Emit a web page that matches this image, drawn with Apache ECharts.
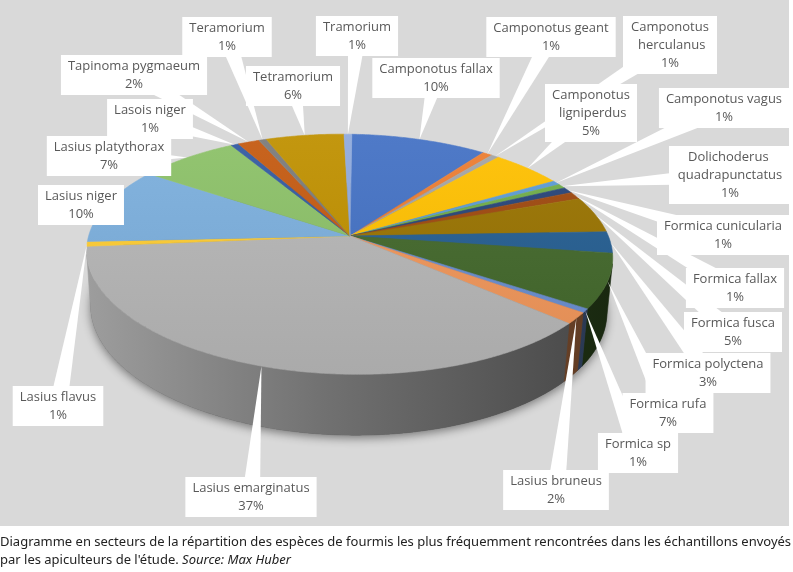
<!DOCTYPE html>
<html lang="fr">
<head>
<meta charset="UTF-8">
<title>Répartition des espèces de fourmis</title>
<script src="https://cdn.jsdelivr.net/npm/echarts@6/dist/echarts.min.js"></script>
<style>
    html, body { margin: 0; padding: 0; background: #fff; }
    #chart { width: 793px; height: 572px; }
</style>
</head>
<body>
<div id="chart"></div>
<script>
    // espèces, dans l'ordre des secteurs (sens horaire depuis midi)
    const especes = ['Camponotus fallax', 'Camponotus geant', 'Camponotus herculanus', 'Camponotus ligniperdus',
        'Camponotus vagus', 'Dolichoderus quadrapunctatus', 'Formica cunicularia', 'Formica fallax',
        'Formica fusca', 'Formica polyctena', 'Formica rufa', 'Formica sp', 'Lasius bruneus',
        'Lasius emarginatus', 'Lasius flavus', 'Lasius niger', 'Lasius platythorax', 'Lasois niger',
        'Tapinoma pygmaeum', 'Teramorium', 'Tetramorium', 'Tramorium'];
    // part estimée de chaque espèce (%)
    const parts = [9.7, 0.7, 0.55, 5.1, 0.6, 0.6, 0.8, 1.0, 4.9, 2.9, 7.4, 0.55, 1.55,
        37.1, 0.65, 10.5, 7.2, 0.55, 1.55, 0.55, 5.6, 0.55];
    // couleurs des secteurs (palette Office)
    const couleurs = ['#4472C4', '#ED7D31', '#A5A5A5', '#FFC000', '#5B9BD5', '#70AD47', '#264478', '#9E480E',
        '#997300', '#255E91', '#43682B', '#698ED0', '#F1975A', '#B7B7B7', '#FFCD33', '#7CAFDD',
        '#8CC168', '#335AA1', '#C55A11', '#7B7B7B', '#BF9000', '#8FAADC'];
    // étiquettes : centre x, centre y, largeur de retour à la ligne (0 = une ligne)
    const etiquettes = [[436, 78, 0], [551, 37, 0], [670, 45, 80], [591, 113, 78], [724, 108, 0],
        [730, 175, 108], [723, 235, 0], [735, 288, 0], [733, 332, 0], [708, 373, 0], [668, 413, 0],
        [638, 453, 0], [556, 490, 0], [251, 497, 0], [58, 406, 0], [81, 205, 0], [109, 156, 0],
        [150, 119, 0], [134, 75, 0], [227, 37, 0], [293, 86, 0], [357, 36, 0]];

    const total = parts.reduce((a, b) => a + b, 0);
    const debut = [];
    let cumul = 0;
    parts.forEach(v => { debut.push(cumul / total * 2 * Math.PI); cumul += v; });

    // vue 3D façon Excel : inclinaison + perspective
    const vue = {cx: 350, cy: 236, r: 260, d: 5.87, tilt: 26.8 * Math.PI / 180, h: 0.238, roll: 1 * Math.PI / 180};

    function proj(x, z, y) {
        const s = Math.sin(vue.tilt), c = Math.cos(vue.tilt);
        const up = z * s + y * c;
        const k = vue.d / (vue.d + z * c - y * s);
        const dx = vue.r * x * k, dy = -vue.r * up * k;
        return [vue.cx + dx * Math.cos(vue.roll) - dy * Math.sin(vue.roll),
            vue.cy + dx * Math.sin(vue.roll) + dy * Math.cos(vue.roll)];
    }

    function arc(a0, a1, y) {
        const pts = [];
        const n = Math.max(2, Math.ceil((a1 - a0) / (Math.PI / 360)));
        for (let j = 0; j <= n; j++) {
            const t = a0 + (a1 - a0) * j / n;
            pts.push(proj(Math.sin(t), Math.cos(t), y));
        }
        return pts;
    }

    // partie de la paroi tournée vers l'observateur
    function faceVisible(t) {
        const e = 0.001;
        const a = proj(Math.sin(t), Math.cos(t), 0);
        const b = proj(Math.sin(t + e), Math.cos(t + e), 0);
        const c = proj(Math.sin(t), Math.cos(t), -vue.h);
        return (b[0] - a[0]) * (c[1] - a[1]) - (b[1] - a[1]) * (c[0] - a[0]) < 0;
    }
    let paroiMin = Math.PI, paroiMax = Math.PI;
    while (faceVisible(paroiMin - 0.002)) paroiMin -= 0.002;
    while (faceVisible(paroiMax + 0.002)) paroiMax += 0.002;

    function teinte(hex, f) {
        const n = parseInt(hex.slice(1), 16);
        let r = n >> 16, g = (n >> 8) & 255, b = n & 255;
        if (f <= 1) {
            r *= f; g *= f; b *= f;
        } else {
            const t = f - 1;
            r += (255 - r) * t; g += (255 - g) * t; b += (255 - b) * t;
        }
        return 'rgb(' + Math.round(r) + ',' + Math.round(g) + ',' + Math.round(b) + ')';
    }

    function renderItem(params, api) {
        const i = params.dataIndex;
        const a0 = debut[i];
        const a1 = a0 + api.value(0) / total * 2 * Math.PI;
        const col = couleurs[i];
        const children = [];

        // ombre sous le camembert (une seule fois)
        if (i === 0) {
            children.push({
                type: 'polygon', z2: 0, silent: true,
                shape: {points: arc(0, 2 * Math.PI, -vue.h)},
                style: {fill: '#4a4a4a', shadowBlur: 10, shadowColor: 'rgba(0,0,0,0.45)', shadowOffsetY: 3}
            });
        }

        // paroi visible
        const lo = Math.max(a0, paroiMin), hi = Math.min(a1, paroiMax);
        if (hi > lo) {
            const haut = arc(lo, hi, 0), bas = arc(lo, hi, -vue.h).reverse();
            const grad = new echarts.graphic.LinearGradient(88, 0, 612, 0, [
                {offset: 0, color: teinte(col, 0.86)},
                {offset: 0.45, color: teinte(col, 0.62)},
                {offset: 1, color: teinte(col, 0.38)}
            ], true);
            children.push({
                type: 'polygon', z2: 1,
                shape: {points: haut.concat(bas)},
                style: {fill: grad, stroke: grad, lineWidth: 0.6}
            });
        }

        // face supérieure
        const dessus = new echarts.graphic.LinearGradient(0, 133, 0, 377, [
            {offset: 0, color: teinte(col, 1.06)},
            {offset: 1, color: teinte(col, 0.93)}
        ], true);
        children.push({
            type: 'polygon', z2: 10,
            shape: {points: [proj(0, 0, 0)].concat(arc(a0, a1, 0))},
            style: {fill: dessus, stroke: dessus, lineWidth: 0.6}
        });

        // étiquette avec pointe
        const mid = (a0 + a1) / 2;
        const tip = proj(Math.sin(mid), Math.cos(mid), 0);
        const e = etiquettes[i];
        const dx = tip[0] - e[0], dy = tip[1] - e[1];
        const len = Math.sqrt(dx * dx + dy * dy) || 1;
        const px = -dy / len * 9, py = dx / len * 9;
        children.push({
            type: 'polygon', z2: 20, silent: true,
            shape: {points: [tip, [e[0] + px, e[1] + py], [e[0] - px, e[1] - py]]},
            style: {fill: '#fff'}
        });
        const pct = Math.round(api.value(0) / total * 100) + '%';
        const texte = {
            text: especes[i] + '\n' + pct,
            x: e[0], y: e[1],
            align: 'center', verticalAlign: 'middle',
            fill: '#595959',
            fontFamily: '"Open Sans", sans-serif', fontSize: 13, lineHeight: 18,
            backgroundColor: '#fff', padding: [2, 7]
        };
        if (e[2]) {
            texte.width = e[2];
            texte.overflow = 'break';
        }
        children.push({type: 'text', z2: 21, silent: true, style: texte});

        return {type: 'group', children: children};
    }

    const chart = echarts.init(document.getElementById('chart'));
    chart.setOption({
        animation: false,
        backgroundColor: '#fff',
        title: {
            left: 0, top: 533, padding: 0,
            text: 'Diagramme en secteurs de la répartition des espèces de fourmis les plus fréquemment rencontrées dans les échantillons envoyés\npar les apiculteurs de l\'étude. {i|Source: Max Huber}',
            textStyle: {
                fontFamily: '"Noto Sans", sans-serif', fontSize: 13, fontWeight: 'normal',
                color: '#222', lineHeight: 18,
                rich: {
                    i: {fontFamily: '"Noto Sans", sans-serif', fontSize: 13, fontStyle: 'italic', color: '#222', lineHeight: 18}
                }
            }
        },
        graphic: [{
            type: 'rect', z: -10, silent: true,
            shape: {x: 0, y: 0, width: 789, height: 526},
            style: {fill: '#D9D9D9'}
        }],
        series: [{
            type: 'custom',
            name: 'Espèces',
            coordinateSystem: 'none',
            renderItem: renderItem,
            data: parts
        }]
    });
</script>
</body>
</html>
